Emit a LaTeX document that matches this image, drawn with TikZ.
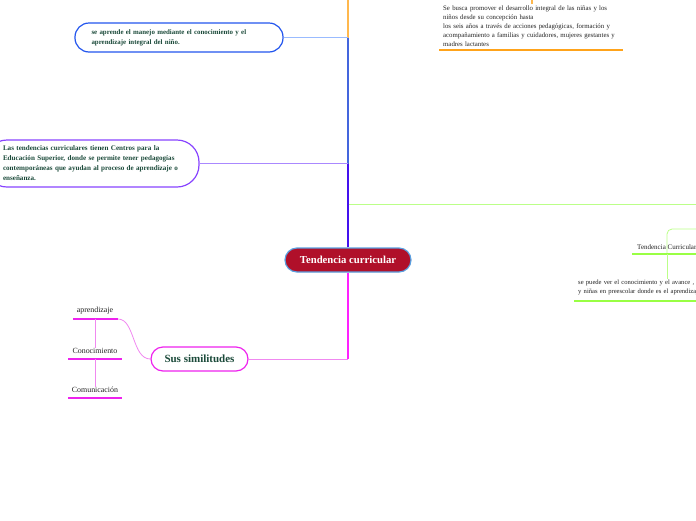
\documentclass[tikz,border=0pt]{standalone}
\usepackage{fontspec}
\setmainfont{Liberation Serif}
\definecolor{cred}{HTML}{B0102A}
\definecolor{cedge}{HTML}{5AA0E0}
\definecolor{dgreen}{HTML}{1B4A3A}
\definecolor{orangeT}{HTML}{FFB84D}
\definecolor{orangeU}{HTML}{FFA31A}
\definecolor{blueT}{HTML}{4466DD}
\definecolor{blueB}{HTML}{2255EE}
\definecolor{blueL}{HTML}{99BBFF}
\definecolor{purpT}{HTML}{4411EE}
\definecolor{purpB}{HTML}{8844FF}
\definecolor{purpL}{HTML}{AA88FF}
\definecolor{greenL}{HTML}{BBFF88}
\definecolor{greenU}{HTML}{99FF44}
\definecolor{magT}{HTML}{FF22FF}
\definecolor{magB}{HTML}{EE22EE}
\definecolor{magL}{HTML}{F088F0}
\definecolor{txt}{HTML}{222222}
\tikzset{
  central/.style={draw=cedge, line width=1.2pt, fill=cred, rounded corners=12pt,
    minimum width=126pt, minimum height=24pt, inner sep=0pt,
    text=white, font=\fontsize{10.7}{12}\selectfont\bfseries},
  bubble/.style={fill=white, line width=1.2pt, align=left, inner ysep=0pt,
    text=dgreen, font=\fontsize{6.9}{10}\selectfont\bfseries},
  plain/.style={inner sep=0pt, text=txt, font=\fontsize{7.9}{9}\selectfont},
  small/.style={inner sep=0pt, text=txt, align=left, font=\fontsize{6.8}{8.8}\selectfont},
  trunk/.style={line width=2pt},
  branch/.style={line width=1pt}
}
\begin{document}
\begin{tikzpicture}[x=1pt,y=-1pt]
\useasboundingbox (0,0) rectangle (696,520);

% nodes
\node[central] (c) at (348,260) {Tendencia curricular};

\node[bubble, draw=blueB, rounded corners=14pt, minimum width=208pt, minimum height=29pt,
  text width=175pt, inner xsep=16.5pt] (n1) at (179,37.5)
  {se aprende el manejo mediante el conocimiento y el\\aprendizaje integral del niño.};

\node[bubble, draw=purpB, rounded corners=22pt, minimum width=214pt, minimum height=47pt,
  text width=178pt, inner xsep=18pt, font=\fontsize{7.1}{10}\selectfont\bfseries] (n2) at (92,163.5)
  {Las tendencias curriculares tienen Centros para la\\Educación Superior, donde se permite tener pedagogías\\contemporáneas que ayudan al proceso de aprendizaje o\\enseñanza.};

\node[bubble, draw=magB, rounded corners=12pt, minimum width=97pt, minimum height=24pt,
  inner xsep=0pt, font=\fontsize{11}{12}\selectfont\bfseries] (sim) at (199.5,359) {Sus similitudes};

\node[small, anchor=north west, text width=190pt] (sb) at (443,6)
  {Se busca promover el desarrollo integral de las niñas y los\\niños desde su concepción hasta\\los seis años a través de acciones pedagógicas, formación y\\acompañamiento a familias y cuidadores, mujeres gestantes y\\madres lactantes};
\coordinate (sbtop) at (532,4);
\coordinate (sbl) at (439,50);
\coordinate (sbr) at (623,50);

\node[plain] (apr) at (95,311) {aprendizaje};
\node[plain] (con) at (95,351) {Conocimiento};
\node[plain] (com) at (95,390) {Comunicación};
\coordinate (aprL) at (73,319); \coordinate (aprR) at (118,319);
\coordinate (conL) at (68,359); \coordinate (conR) at (122,359);
\coordinate (comL) at (68,398); \coordinate (comR) at (122,398);

\node[small, anchor=west, font=\fontsize{7}{8.8}\selectfont] (tc) at (637,247) {Tendencia Curricular};
\coordinate (tcL) at (632,254); \coordinate (tcR) at (700,254);
\coordinate (tcM) at (667,254);
\coordinate (tcUp) at (700,229);

\node[small, anchor=north west, text width=200pt, font=\fontsize{6.6}{8.6}\selectfont] (sp) at (578,280)
  {se puede ver el conocimiento y el avance , de los niños\\y niñas en preescolar donde es el aprendizaje};
\coordinate (spL) at (574,301); \coordinate (spR) at (700,301);
\coordinate (spTop) at (667,279);

\coordinate (grR) at (700,204);
\coordinate (top) at (348,-20);

% connectors
\draw[orangeT, trunk] (c.north) -- (top) -| (sbtop);
\draw[orangeU, line width=1.5pt] (sbl) -- (sbr);

\draw[blueT, trunk] (c.north) -- (c.north |- n1.east);
\draw[blueL, branch] (c.north |- n1.east) -- (n1.east);

\draw[greenL, branch] (c.north |- grR) -- (grR);

\draw[purpT, line width=2.4pt] (c.north) -- (c.north |- n2.east);
\draw[purpL, branch] (c.north |- n2.east) -- (n2.east);

\draw[magT, trunk] (c.south) -- (c.south |- sim.east);
\draw[magL, branch] (c.south |- sim.east) -- (sim.east);

\draw[magL, line width=0.8pt] (sim.west) .. controls (132,359) and (135,319) .. (aprR);
\draw[magB, line width=1.5pt] (aprL) -- (aprR);
\draw[magB, line width=1.5pt] (conL) -- (conR);
\draw[magB, line width=1.5pt] (comL) -- (comR);
\draw[magL, line width=0.8pt] (95,319) -- (con.north);
\draw[magL, line width=0.8pt] (95,359) -- (com.north);

\draw[greenL, line width=0.8pt, rounded corners=5pt] (tcM) -- (tcM |- tcUp) -- (tcUp);
\draw[greenU, line width=1.5pt] (tcL) -- (tcR);
\draw[greenL, line width=0.8pt] (tcM) -- (spTop);
\draw[greenU, line width=1.5pt] (spL) -- (spR);
\end{tikzpicture}
\end{document}
